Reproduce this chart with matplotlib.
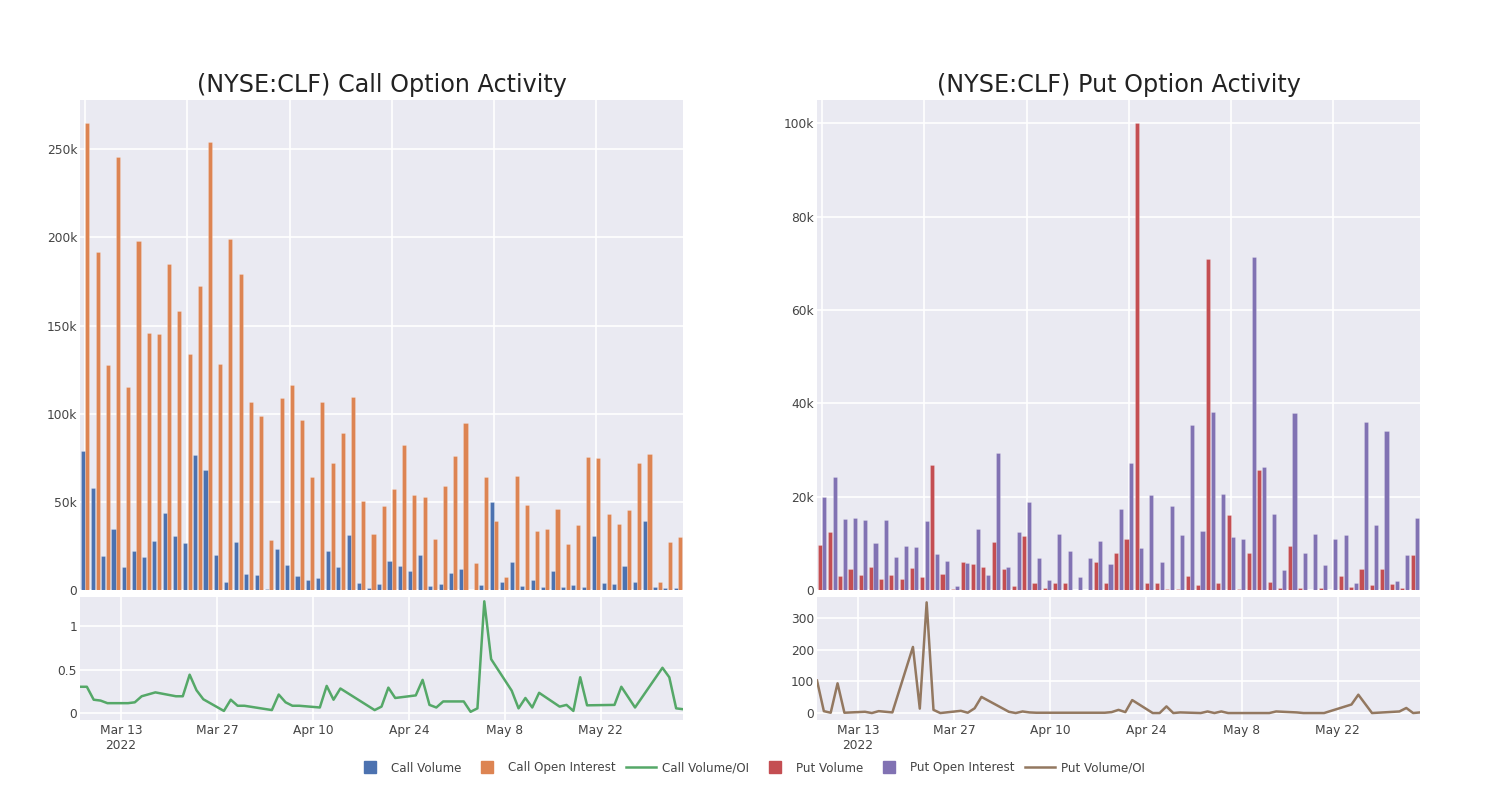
import matplotlib
matplotlib.use("Agg")
import matplotlib.pyplot as plt
from matplotlib.lines import Line2D
from matplotlib.ticker import FuncFormatter, FixedLocator
import numpy as np
import pandas as pd

# trading days with data
dates = pd.to_datetime([
    "2022-03-07", "2022-03-08", "2022-03-09", "2022-03-10", "2022-03-11",
    "2022-03-14", "2022-03-15", "2022-03-16", "2022-03-18",
    "2022-03-21", "2022-03-22", "2022-03-23", "2022-03-24", "2022-03-25",
    "2022-03-28", "2022-03-29", "2022-03-30", "2022-03-31",
    "2022-04-04", "2022-04-05", "2022-04-06", "2022-04-07", "2022-04-08",
    "2022-04-11", "2022-04-12", "2022-04-13", "2022-04-14",
    "2022-04-18", "2022-04-19", "2022-04-20", "2022-04-21", "2022-04-22",
    "2022-04-25", "2022-04-26", "2022-04-27", "2022-04-28", "2022-04-29",
    "2022-05-02", "2022-05-03", "2022-05-04", "2022-05-05", "2022-05-06",
    "2022-05-09", "2022-05-10", "2022-05-11", "2022-05-12", "2022-05-13",
    "2022-05-16", "2022-05-17", "2022-05-18", "2022-05-19", "2022-05-20",
    "2022-05-24", "2022-05-25", "2022-05-27",
    "2022-05-31", "2022-06-01", "2022-06-02", "2022-06-03",
])

call_volume = [
    79000, 58000, 19300, 34500, 13000, 22000, 18800, 27800, 43800, 30900,
    26500, 76700, 67800, 19900, 4700, 27300, 9300, 8500, 800, 23100,
    14200, 7800, 5500, 7000, 22200, 13300, 31000, 4000, 1000, 3200,
    16500, 13600, 10600, 20000, 2500, 3200, 9800, 11900, 200, 3000,
    50200, 4500, 16100, 2100, 5500, 1900, 10600, 1700, 3000, 1900,
    30500, 3800, 3400, 13600, 4400, 39400, 1700, 1100, 1100,
]
call_oi = [
    265000, 191700, 127700, 245600, 115000, 198000, 145800, 145000, 184800, 158300,
    133700, 172300, 254000, 128000, 198900, 179000, 106600, 98500, 28600, 108900,
    116500, 96200, 64200, 106600, 71800, 88800, 109500, 50600, 32000, 47700,
    57400, 82000, 54000, 52500, 28800, 59000, 76100, 94500, 15300, 64200,
    39200, 7600, 64400, 48300, 33300, 34700, 46000, 25900, 36700, 75200,
    74800, 43000, 37300, 45600, 71800, 76900, 4700, 27300, 30300,
]
call_ratio = [
    0.30, 0.30, 0.15, 0.14, 0.11, 0.11, 0.12, 0.19, 0.235, 0.19,
    0.19, 0.44, 0.26, 0.155, 0.02, 0.15, 0.08, 0.08, 0.03, 0.21,
    0.12, 0.08, 0.08, 0.06, 0.31, 0.15, 0.28, 0.08, 0.03, 0.07,
    0.29, 0.17, 0.20, 0.38, 0.09, 0.06, 0.13, 0.13, 0.01, 0.05,
    1.29, 0.62, 0.255, 0.05, 0.17, 0.06, 0.23, 0.07, 0.09, 0.02,
    0.41, 0.085, 0.09, 0.30, 0.06, 0.52, 0.41, 0.05, 0.04,
]

put_volume = [
    9600, 12400, 3000, 4400, 3200, 5000, 2400, 3200, 2400, 4700,
    2800, 26800, 3400, 200, 6000, 5600, 5000, 10300, 4600, 800,
    11600, 1400, 500, 1500, 1500, 100, 50, 5900, 1600, 7900,
    10900, 100000, 1600, 1400, 300, 300, 2900, 1100, 70900, 1600,
    16000, 200, 7900, 25700, 1800, 400, 9400, 400, 100, 400,
    100, 2900, 600, 4600, 1100, 4500, 1200, 500, 7400,
]
put_oi = [
    19900, 24200, 15300, 15500, 14900, 10000, 14900, 7100, 9400, 9300,
    14700, 7700, 6300, 900, 5700, 13100, 3300, 29400, 5000, 12500,
    18900, 6900, 2200, 12000, 8400, 2700, 6800, 10500, 5600, 17400,
    27300, 9100, 20300, 6000, 17900, 11800, 35400, 12600, 38200, 20600,
    11300, 10900, 71400, 26300, 16300, 4300, 38000, 7900, 12100, 5400,
    10900, 11800, 1400, 36000, 13900, 34000, 2000, 7600, 15400,
]
put_ratio = [
    103, 6, 1, 94, 1, 4, 0, 6, 2, 209,
    14, 350, 10, 0, 7, 1, 15, 51, 4, 0,
    5, 2, 1, 1, 1, 1, 1, 1, 3, 10,
    3, 41, 0, 0, 21, 0, 2, 0, 5, 0,
    5, 0, 0, 0, 0, 0, 5, 2, 0, 0,
    0, 0, 27, 58, 0, 5, 16, 0, 2,
]

c_blue, c_orange, c_green = "#4C72B0", "#DD8452", "#55A868"
c_red, c_purple, c_brown = "#C44E52", "#8172B3", "#937860"
bg = "#EAEAF2"
txt = "#444444"

plt.rcParams["font.family"] = ["DejaVu Sans"]

fig = plt.figure(figsize=(15, 8), dpi=100)
W, H = 1500, 800


def box(x0, y0, x1, y1):
    return [x0 / W, 1 - y1 / H, (x1 - x0) / W, (y1 - y0) / H]


def style(ax):
    ax.set_facecolor(bg)
    for s in ax.spines.values():
        s.set_visible(False)
    ax.grid(True, color="white", linewidth=1.2)
    ax.set_axisbelow(True)
    ax.tick_params(length=0, labelsize=8.8, colors=txt)
    ax.tick_params(axis="y", pad=2)
    ax.tick_params(axis="x", pad=3)


kfmt = FuncFormatter(lambda v, p: "0" if v == 0 else f"{int(v / 1000)}k")
date_ticks = pd.date_range("2022-03-13", periods=6, freq="14D")
date_labels = [d.strftime("%b %-d") for d in date_ticks]
date_labels[0] += "\n2022"

idx = np.arange(len(dates))
panels = [
    (80, "(NYSE:CLF) Call Option Activity", call_volume, call_oi, call_ratio,
     c_blue, c_orange, c_green, 278000, 50000, (-0.085, 1.34), [0, 0.5, 1],
     ["0", "0.5", "1"]),
    (817, "(NYSE:CLF) Put Option Activity", put_volume, put_oi, put_ratio,
     c_red, c_purple, c_brown, 105000, 20000, (-22, 367), [0, 100, 200, 300],
     ["0", "100", "200", "300"]),
]

for x0, title, vol, oi, ratio, cv, co, cl, ymax, ystep, rlim, rt, rl in panels:
    ax = fig.add_axes(box(x0, 100, x0 + 603, 590))
    style(ax)
    ax.bar(idx - 0.22, vol, width=0.4, color=cv, edgecolor="#ffffff55", linewidth=0.4)
    ax.bar(idx + 0.22, oi, width=0.4, color=co, edgecolor="#ffffff55", linewidth=0.4)
    ax.set_xlim(-0.5, len(dates) - 0.5)
    ax.set_ylim(0, ymax)
    ax.xaxis.set_major_locator(FixedLocator(np.arange(0, len(dates), 10)))
    ax.set_xticklabels([])
    ax.yaxis.set_major_locator(FixedLocator(np.arange(0, ymax, ystep)))
    ax.yaxis.set_major_formatter(kfmt)
    ax.set_title(title, fontsize=17.2, color="#222222", pad=6)

    ax2 = fig.add_axes(box(x0, 597, x0 + 603, 720))
    style(ax2)
    ax2.plot(dates, ratio, color=cl, linewidth=1.8)
    ax2.set_xlim(dates[0], dates[-1])
    ax2.set_ylim(*rlim)
    ax2.set_yticks(rt)
    ax2.set_yticklabels(rl)
    ax2.set_xticks(date_ticks)
    ax2.set_xticklabels(date_labels)


def sq(color, label):
    return Line2D([], [], linestyle="none", marker="s", markersize=8.5,
                  color=color, label=label)


handles = [
    sq(c_blue, "Call Volume"),
    sq(c_orange, "Call Open Interest"),
    Line2D([], [], color=c_green, lw=1.8, label="Call Volume/OI"),
    sq(c_red, "Put Volume"),
    sq(c_purple, "Put Open Interest"),
    Line2D([], [], color=c_brown, lw=1.8, label="Put Volume/OI"),
]
fig.legend(handles=handles, loc="center", bbox_to_anchor=(0.5, 1 - 768 / H), ncol=6,
           frameon=False, fontsize=8.6, handlelength=2.5, handletextpad=0.5,
           columnspacing=0.9, labelcolor=txt)

fig.savefig("out.png", dpi=100)
